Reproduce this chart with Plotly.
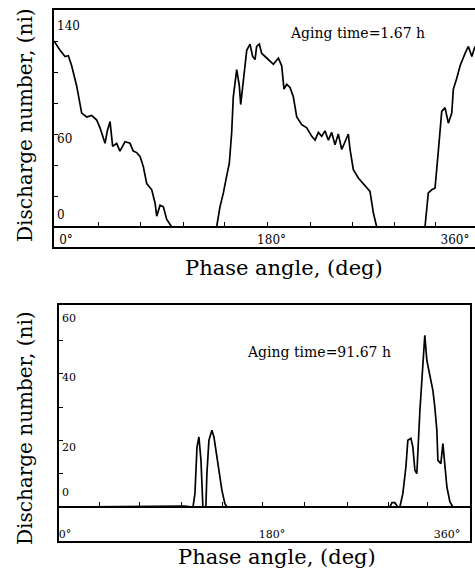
import plotly.graph_objects as go

# ---- data: top panel (Aging time = 1.67 h) ----
phase_top = [0, 5.3, 9.7, 12.6, 15.5, 19.9, 24.3, 28.7, 33.1, 37.5, 40.4, 44.8, 46.8, 49.2, 51.5,
             55.0, 57.9, 62.3, 66.7, 69.6, 72.6, 75.5, 78.4, 81.4, 85.8, 88.7, 90.2, 93.1, 96.0,
             98.9, 103.3, 142.8, 145.7, 148.7, 151.6, 153.9, 156.0, 157.4, 160.4, 162.7, 163.9,
             166.2, 169.2, 172.1, 174.4, 176.5, 177.9, 180.3, 182.3, 185.3, 188.2, 192.6, 197.0,
             199.9, 201.9, 204.3, 207.2, 210.1, 213.1, 217.5, 221.9, 226.3, 229.2, 232.1, 235.0,
             237.9, 240.9, 243.8, 246.7, 249.6, 252.6, 255.5, 258.4, 259.9, 262.8, 267.2, 271.6,
             277.4, 280.4, 283.3, 325.7, 328.6, 331.6, 334.5, 337.4, 340.4, 343.3, 346.2, 349.2,
             350.6, 353.6, 356.5, 360.9, 363.8, 366.8, 369.6]
count_top = [120, 114, 110, 110.5, 104, 91, 73.5, 71, 72, 69, 64, 54, 62, 68, 52,
             54, 49, 55, 54, 49, 48, 45.6, 39, 28, 24, 15.5, 7, 14, 13,
             5, 0, 0, 13, 22, 33, 41, 61, 84, 101.5, 91, 79,
             95, 114, 118, 110, 108, 116.5, 118, 112, 110, 108, 105, 109,
             104, 89, 92, 90, 84, 71, 66, 64, 58.5, 56, 61, 58.5,
             62, 56, 61, 53, 60, 50, 55, 60, 50, 37, 31.6, 28,
             23, 9, 0, 0, 22, 24, 25, 49, 74.6, 77, 67, 73.5,
             89, 96, 104, 112, 116.5, 110, 116.5]

# ---- data: bottom panel (Aging time = 91.67 h) ----
phase_bot = [0, 100, 110, 117.7, 119.4, 121.2, 122.9, 124.7, 126.4, 129.0, 129.9, 131.7, 134.3,
             136.1, 137.8, 140.5, 143.1, 145.7, 147.5, 290.6, 292.4, 295.0, 297.6, 299.4, 302.0,
             304.7, 306.4, 309.1, 310.8, 312.6, 314.3, 317.0, 318.7, 319.6, 321.3, 323.1, 325.7,
             328.4, 330.1, 331.9, 332.8, 335.4, 337.2, 338.9, 340.7, 343.3, 345.9, 361]
count_bot = [0, 0.3, 0.3, 0, 4, 18, 21, 14, 0, 0, 10, 20, 23,
             21, 17, 12, 5, 1, 0, 0, 1.3, 1.3, 0, 0, 4,
             12, 20, 20.6, 18, 11, 10, 29, 38, 46, 51.5, 44, 40,
             35, 30, 23, 14, 13, 19, 12, 6, 1.6, 0, 0]

# tick labels
xlab_text = ["0°", "180°", "360°"]
xlab_top_pos = [10.5, 191, 352]
xlab_bot_pos = [5.3, 187, 340.7]
ylab_top_text = ["140", "60", "0"]
ylab_top_pos = [130, 57, 7.7]
ylab_bot_text = ["60", "40", "20", "0"]
ylab_bot_pos = [56.7, 39, 18, 4.5]
base_ticks_top = [39.5, 76, 114, 150, 187, 225, 262, 299, 335]
base_ticks_bot = [36, 71, 108, 144, 179, 216, 253, 289, 324]

W, H = 475, 577
def px(x):
    return x / W
def py(y):
    return (H - y) / H

FONT = "DejaVu Serif"
top_xr = [0, 369.6]
top_yr = [-12.9, 140]
bot_xr = [0, 361]
bot_yr = [-10.2, 60.6]
dom_top_x = [px(54), 1.0]
dom_top_y = [py(247), py(10)]
dom_bot_x = [px(59), px(470)]
dom_bot_y = [py(541), py(305)]

fig = go.Figure()
line = dict(color="black", width=1.7)
fig.add_trace(go.Scatter(x=phase_top, y=count_top, mode="lines", line=line,
                         xaxis="x", yaxis="y", showlegend=False))
fig.add_trace(go.Scatter(x=phase_bot, y=count_bot, mode="lines", line=line,
                         xaxis="x2", yaxis="y2", showlegend=False))
# empty helpers so overlay axes are drawn
for xa, ya in [("x3", "y"), ("x", "y3"), ("x4", "y2"), ("x2", "y4")]:
    fig.add_trace(go.Scatter(x=[None], y=[None], xaxis=xa, yaxis=ya,
                             showlegend=False, hoverinfo="skip"))

tickfont = dict(family=FONT, size=12, color="black")
tickfont_b = dict(family=FONT, size=11, color="black")
common_x = dict(showgrid=False, zeroline=False, fixedrange=True)

fig.update_layout(
    template="none",
    width=W, height=H, margin=dict(l=0, r=0, t=0, b=0),
    paper_bgcolor="white", plot_bgcolor="white",
    # top panel main axes
    xaxis=dict(domain=dom_top_x, range=top_xr, anchor="y", showline=True, linecolor="black",
               linewidth=1.5, mirror=True, ticks="", tickmode="array",
               tickvals=xlab_top_pos, ticktext=xlab_text, ticklabelposition="inside",
               ticklabeloverflow="allow", tickfont=tickfont, **common_x),
    yaxis=dict(domain=dom_top_y, range=top_yr, anchor="x", showline=True, linecolor="black",
               linewidth=1.5, ticks="inside", ticklen=4, tickcolor="black",
               tickvals=[20, 40, 60, 80, 100, 120], showticklabels=False,
               showgrid=False, zeroline=False),
    # baseline axis top
    xaxis3=dict(domain=dom_top_x, range=top_xr, overlaying="x", anchor="free",
                position=py(227), showline=True, linecolor="black", linewidth=1.5,
                ticks="inside", ticklen=4, tickcolor="black", tickvals=base_ticks_top,
                showticklabels=False, **common_x),
    # y labels top
    yaxis3=dict(domain=dom_top_y, range=top_yr, overlaying="y", anchor="x", side="left",
                showline=False, ticks="", tickvals=ylab_top_pos, ticktext=ylab_top_text,
                ticklabelposition="inside", ticklabeloverflow="allow", tickfont=tickfont,
                showgrid=False, zeroline=False),
    # bottom panel main axes
    xaxis2=dict(domain=dom_bot_x, range=bot_xr, anchor="y2", showline=True, linecolor="black",
                linewidth=1.5, mirror=True, ticks="", tickmode="array",
                tickvals=xlab_bot_pos, ticktext=xlab_text, ticklabelposition="inside",
                ticklabeloverflow="allow", tickfont=tickfont_b, **common_x),
    yaxis2=dict(domain=dom_bot_y, range=bot_yr, anchor="x2", showline=True, linecolor="black",
                linewidth=1.5, mirror=True, ticks="inside", ticklen=4, tickcolor="black",
                tickvals=[10, 20, 30, 40, 50], showticklabels=False,
                showgrid=False, zeroline=False),
    xaxis4=dict(domain=dom_bot_x, range=bot_xr, overlaying="x2", anchor="free",
                position=py(507), showline=True, linecolor="black", linewidth=1.5,
                ticks="inside", ticklen=4, tickcolor="black", tickvals=base_ticks_bot,
                showticklabels=False, **common_x),
    yaxis4=dict(domain=dom_bot_y, range=bot_yr, overlaying="y2", anchor="x2", side="left",
                showline=False, ticks="", tickvals=ylab_bot_pos, ticktext=ylab_bot_text,
                ticklabelposition="inside", ticklabeloverflow="allow", tickfont=tickfont_b,
                showgrid=False, zeroline=False),
)

ytitle_font = dict(family=FONT, size=20, color="black")
xtitle_font = dict(family=FONT, size=21, color="black")
ann = [
    dict(text="Discharge number, (ni)", x=px(25), y=py(125), textangle=-90, font=ytitle_font),
    dict(text="Phase angle, (deg)", x=px(284), y=py(268), font=xtitle_font),
    dict(text="Discharge number, (ni)", x=px(25), y=py(428), textangle=-90, font=ytitle_font),
    dict(text="Phase angle, (deg)", x=px(277), y=py(557), font=xtitle_font),
    dict(text="Aging time=1.67 h", x=px(357), y=py(33), font=dict(family=FONT, size=14, color="black")),
    dict(text="Aging time=91.67 h", x=px(319), y=py(352), font=dict(family=FONT, size=14, color="black")),
]
for a in ann:
    a.update(xref="paper", yref="paper", showarrow=False, xanchor="center", yanchor="middle")
fig.update_layout(annotations=ann)

fig.write_html("out.html", config={"displayModeBar": False},
               post_script="document.body.style.margin='0';")
